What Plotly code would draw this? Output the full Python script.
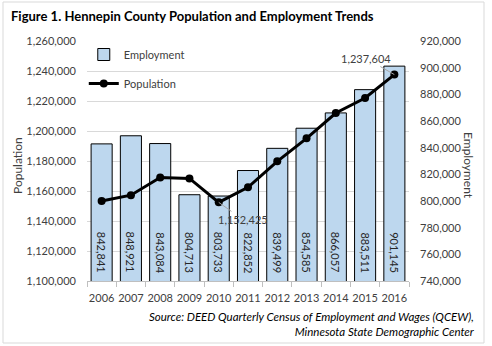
import plotly.graph_objects as go

years = [2006, 2007, 2008, 2009, 2010, 2011, 2012, 2013, 2014, 2015, 2016]
employment = [842841, 848921, 843084, 804713, 803733, 822852, 839499, 854585, 866057, 883511, 901145]
population = [1153300, 1157200, 1169000, 1168400, 1152425, 1162500, 1179800, 1195100, 1212000, 1222000, 1237604]
emp_labels = [f"{v:,}" for v in employment]
EMP_MIN, EMP_MAX = 740000, 920000
POP_MIN, POP_MAX = 1100000, 1260000

W, H = 492, 346
L, R, T, B = 87, 83, 41, 65
pw, ph = W - L - R, H - T - B

def px(x):
    return (x - L) / pw

def py(y):
    return (H - B - y) / ph

FONT = "Lato"
TXT = "#404040"

fig = go.Figure()
fig.add_trace(go.Bar(
    x=years, y=employment, name="Employment", yaxis="y",
    marker=dict(color="#BDD7EE", line=dict(color="black", width=1)),
    legendgroup="a", hoverinfo="skip",
))
fig.add_trace(go.Scatter(
    x=years, y=population, name="Population", yaxis="y2",
    mode="lines+markers", line=dict(color="black", width=3),
    marker=dict(color="black", size=8), legendgroup="b",
))

fig.update_layout(
    width=W, height=H,
    margin=dict(l=L, r=R, t=T, b=B, autoexpand=False),
    paper_bgcolor="white", plot_bgcolor="white",
    font=dict(family=FONT, size=11, color=TXT),
    bargap=0.28,
    showlegend=True,
    legend=dict(x=-0.01, y=py(40), xanchor="left", yanchor="top",
                bgcolor="rgba(0,0,0,0)", traceorder="grouped", tracegroupgap=10,
                font=dict(family=FONT, size=11, color=TXT)),
    xaxis=dict(type="linear", range=[2005.5, 2016.5], tickmode="array", tickvals=years,
               ticktext=[str(y) for y in years], showgrid=False, zeroline=False,
               showline=True, linecolor="#bfbfbf", ticks="", ticklabelstandoff=7,
               minor=dict(tick0=2005.5, dtick=1, ticks="outside", ticklen=5,
                          tickcolor="#bfbfbf", showgrid=False),
               tickfont=dict(family=FONT, size=11, color=TXT)),
    yaxis=dict(side="right", range=[EMP_MIN, EMP_MAX], dtick=20000, tickformat=",d",
               showgrid=False, zeroline=False, ticklabelstandoff=10,
               tickfont=dict(family=FONT, size=11, color=TXT)),
    yaxis2=dict(side="left", overlaying="y", range=[POP_MIN, POP_MAX], dtick=20000,
                tickformat=",d", showgrid=True, gridcolor="#d9d9d9", gridwidth=1,
                zeroline=False, ticklabelstandoff=10,
                tickfont=dict(family=FONT, size=11, color=TXT)),
)

anns = [
    dict(text="<b>Figure 1. Hennepin County Population and Employment Trends</b>",
         xref="paper", yref="paper", x=px(9), y=py(16), xanchor="left", yanchor="middle",
         showarrow=False, font=dict(family=FONT, size=13, color="black")),
    dict(text="Population", xref="paper", yref="paper", x=px(17), y=py(166),
         xanchor="center", yanchor="middle",
         textangle=-90, showarrow=False, font=dict(family=FONT, size=12, color=TXT)),
    dict(text="Employment", xref="paper", yref="paper", x=px(469), y=py(166),
         xanchor="center", yanchor="middle",
         textangle=90, showarrow=False, font=dict(family=FONT, size=12, color=TXT)),
    dict(text="Source: DEED Quarterly Census of Employment and Wages (QCEW),<br>Minnesota State Demographic Center",
         xref="paper", yref="paper", x=px(477), y=py(324), xanchor="right", yanchor="middle",
         align="right", showarrow=False,
         font=dict(family=FONT, size=11.5, color="black", style="italic")),
    dict(text=f"{population[4]:,}", x=years[4], y=population[4], xref="x", yref="y2",
         ax=24, ay=17, showarrow=True, arrowhead=0, arrowwidth=1, arrowcolor="#a6a6a6",
         font=dict(family=FONT, size=11, color=TXT)),
    dict(text=f"{population[10]:,}", x=years[10], y=population[10], xref="x", yref="y2",
         ax=-28, ay=-16, showarrow=True, arrowhead=0, arrowwidth=1, arrowcolor="#a6a6a6",
         font=dict(family=FONT, size=11, color=TXT)),
]
for yr, lab in zip(years, emp_labels):
    anns.append(dict(text=lab, x=yr, y=EMP_MIN, xref="x", yref="y",
                     xanchor="center", yanchor="bottom", yshift=6, textangle=90,
                     showarrow=False, font=dict(family=FONT, size=11, color="#262626")))
fig.update_layout(annotations=anns)

fig.add_shape(type="rect", xref="paper", yref="paper",
              x0=px(3), x1=px(484), y0=py(343), y1=py(2),
              line=dict(color="#d9d9d9", width=1), fillcolor="rgba(0,0,0,0)", layer="below")

fig.write_html("out.html")
